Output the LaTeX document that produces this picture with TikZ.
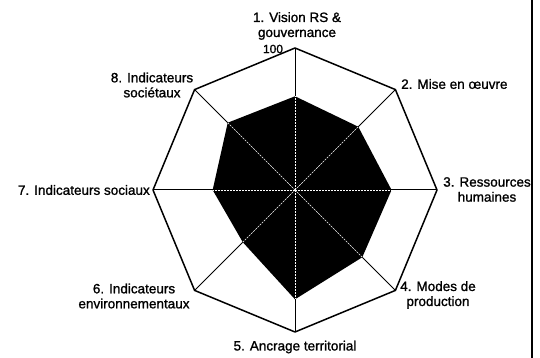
\documentclass[tikz,border=0pt]{standalone}
\usepackage{fontspec}
\setmainfont{Liberation Sans}
\newfontfamily\lblfont{Liberation Sans}[FakeBold=1.2]
\begin{document}
\begin{tikzpicture}[x=1pt,y=1pt,
  lbl/.style={font=\lblfont\fontsize{13.5}{15}\selectfont, align=center, inner sep=0pt},
  axisline/.style={line width=1pt},
  frameline/.style={line width=1.5pt, line join=round},
  innerline/.style={white, line width=0.6pt, dash pattern=on 2pt off 1pt}]
\useasboundingbox (0,0) rectangle (540,358);
\coordinate (c) at (295,168);
\foreach \i in {1,...,8} {
  \path (c) ++({90-45*(\i-1)}:142) coordinate (v\i);
}
\foreach \i/\f in {1/0.66,2/0.63,3/0.68,4/0.67,5/0.77,6/0.52,7/0.58,8/0.67} {
  \path (c) ++({90-45*(\i-1)}:{142*\f}) coordinate (p\i);
}
\foreach \i in {1,...,8} { \draw[axisline] (c) -- (v\i); }
\fill[black] (p1) -- (p2) -- (p3) -- (p4) -- (p5) -- (p6) -- (p7) -- (p8) -- cycle;
\foreach \i in {1,...,8} { \draw[innerline] (c) -- (p\i); }
\draw[frameline] (v1) -- (v2) -- (v3) -- (v4) -- (v5) -- (v6) -- (v7) -- (v8) -- cycle;
% labels
\node[lbl] (l1) at (297,332) {1. Vision RS \&\\gouvernance};
\node[lbl, font=\lblfont\fontsize{12}{14}\selectfont] (l100) at (273,309) {100};
\node[lbl, anchor=west] (l2) at (401,274) {2. Mise en œuvre};
\node[lbl] (l3) at (487,168.5) {3. Ressources\\humaines};
\node[lbl] (l4) at (438,63) {4. Modes de\\production};
\node[lbl] (l5) at (295,11) {5. Ancrage territorial};
\node[lbl] (l6) at (134,62) {6. Indicateurs\\environnementaux};
\node[lbl, anchor=east] (l7) at (150,168) {7. Indicateurs sociaux};
\node[lbl] (l8) at (152,273) {8. Indicateurs\\sociétaux};
% right border line
\coordinate (bt) at (532,358);
\coordinate (bb) at (532,0);
\draw[line width=1.8pt] (bt) -- (bb);
\end{tikzpicture}
\end{document}
